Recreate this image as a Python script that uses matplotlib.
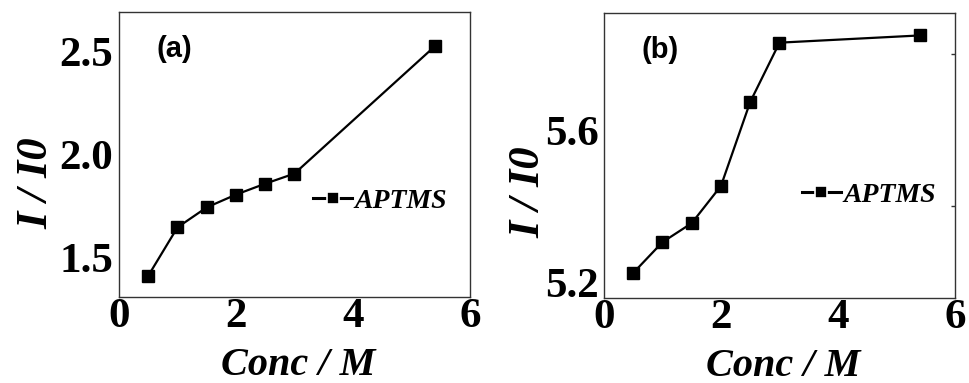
import matplotlib
matplotlib.use("Agg")
import matplotlib.pyplot as plt

# concentration series (M) and normalised intensity I/I0
conc = [0.5, 1.0, 1.5, 2.0, 2.5, 3.0, 5.4]
ratio_a = [1.41, 1.645, 1.742, 1.804, 1.857, 1.906, 2.524]
ratio_b = [5.224, 5.305, 5.355, 5.453, 5.674, 5.830, 5.849]

xticks = [0, 2, 4, 6]
yticks_a = [1.5, 2.0, 2.5]
yticks_b = [5.2, 5.6]
series_name = "APTMS"

serif = "Liberation Serif"

fig = plt.figure(figsize=(9.69, 3.83), dpi=100)
ax1 = fig.add_axes([0.1228, 0.2245, 0.3622, 0.7441])
ax2 = fig.add_axes([0.6233, 0.2219, 0.3622, 0.7441])


def style(ax, yticks, ylim, tag, leg_xy, ylab_xy):
    ax.set_xlim(0, 6)
    ax.set_ylim(*ylim)
    ax.set_xticks(xticks)
    ax.set_yticks(yticks)
    ax.set_xticklabels([str(t) for t in xticks], fontfamily=serif,
                       fontweight="bold", fontsize=31)
    ax.set_yticklabels([f"{t:.1f}" for t in yticks], fontfamily=serif,
                       fontweight="bold", fontsize=31)
    ax.tick_params(axis="both", length=0, pad=1)
    ax.tick_params(axis="y", pad=4)
    for sp in ax.spines.values():
        sp.set_linewidth(1.0)
        sp.set_color("#333333")
    ax.set_xlabel("Conc / M", fontfamily=serif, fontweight="bold",
                  fontstyle="italic", fontsize=29, labelpad=6)
    ax.xaxis.set_label_coords(0.51, -0.175)
    ax.xaxis.label.set_va("top")
    ax.set_ylabel("I / I0", fontfamily=serif, fontweight="bold",
                  fontstyle="italic", fontsize=32)
    ax.yaxis.set_label_coords(*ylab_xy)
    ax.text(0.108, 0.87, tag, transform=ax.transAxes, fontfamily="Liberation Sans",
            fontweight="bold", fontsize=21, va="center", ha="left")
    leg = ax.legend(loc="center left", bbox_to_anchor=leg_xy, frameon=False,
                    handlelength=1.4, handletextpad=0.1, borderpad=0,
                    borderaxespad=0, markerscale=0.9,
                    prop={"family": serif, "style": "italic",
                          "weight": "bold", "size": 20})
    # white rim around the legend square splits the line into two dashes
    for h in leg.legend_handles:
        h.set_markeredgecolor("white")
        h.set_markeredgewidth(1.2)
        h.set_linewidth(2.2)
    return leg


ax1.plot(conc, ratio_a, "-s", color="black", lw=1.6, ms=9, label=series_name)
ax2.plot(conc, ratio_b, "-s", color="black", lw=1.6, ms=9, label=series_name)

style(ax1, yticks_a, (1.307, 2.69), "(a)", (0.553, 0.337), (-0.178, 0.40))
style(ax2, yticks_b, (5.158, 5.908), "(b)", (0.564, 0.361), (-0.158, 0.37))

# small inward ticks on the right spine of panel (b)
ax2r = ax2.secondary_yaxis("right")
ax2r.set_yticks([5.4, 5.8])
ax2r.set_yticklabels([])
ax2r.tick_params(direction="in", length=3, width=1, color="#333333")
ax2r.spines["right"].set_visible(False)

fig.savefig("out.png", dpi=100)
